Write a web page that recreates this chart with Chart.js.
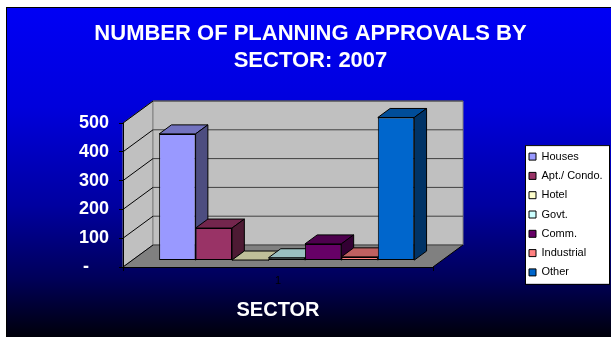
<!DOCTYPE html>
<html>
<head>
<meta charset="utf-8">
<title>Planning approvals by sector 2007</title>
<script src="https://cdn.jsdelivr.net/npm/chart.js@4.4.1/dist/chart.umd.min.js"></script>
<style>
    html, body { margin: 0; padding: 0; background: #fff; }
    canvas { display: block; }
</style>
</head>
<body>
<canvas id="approvals-chart" width="611" height="337"></canvas>
<script>
(function() {
    'use strict';

    // Planning approvals per sector, 2007
    const categories = ['1'];
    const sectors = ['Houses', 'Apt./ Condo.', 'Hotel', 'Govt.', 'Comm.', 'Industrial', 'Other'];
    const approvals = [440, 113, 2, 10, 58, 13, 497];
    const sectorColors = ['#9999FF', '#993366', '#FFFFCC', '#CCFFFF', '#660066', '#FF8080', '#0066CC'];
    const yTicks = [0, 100, 200, 300, 400, 500];

    // 3D look: floor depth vector, and where the bars sit along it
    const DEPTH = { x: 30, y: -22 };
    const BAR_FRONT = 0.29;
    const BAR_DEPTH = 0.41;

    /**
     * Darken a hex colour by factor k
     */
    function shade(hex, k) {
        const n = parseInt(hex.slice(1), 16);
        const r = Math.round(((n >> 16) & 255) * k);
        const g = Math.round(((n >> 8) & 255) * k);
        const b = Math.round((n & 255) * k);
        return 'rgb(' + r + ',' + g + ',' + b + ')';
    }

    function poly(ctx, pts, fill, stroke) {
        ctx.beginPath();
        ctx.moveTo(pts[0][0], pts[0][1]);
        for (let i = 1; i < pts.length; i++) ctx.lineTo(pts[i][0], pts[i][1]);
        ctx.closePath();
        if (fill) { ctx.fillStyle = fill; ctx.fill(); }
        if (stroke) { ctx.strokeStyle = stroke; ctx.stroke(); }
    }

    const frame3d = {
        id: 'frame3d',

        // park the legend in the right margin
        afterLayout: function(chart) {
            const legend = chart.legend;
            legend.left = 520.7;
            legend.top = 142.8;
            legend.right = legend.left + legend.width;
            legend.bottom = chart.height;
        },

        beforeDraw: function(chart) {
            const ctx = chart.ctx;
            const { left, right, top, bottom } = chart.chartArea;
            const dx = DEPTH.x, dy = DEPTH.y;
            const yScale = chart.scales.y;

            ctx.save();

            // page backdrop
            ctx.fillStyle = '#fff';
            ctx.fillRect(0, 0, chart.width, chart.height);
            ctx.fillStyle = '#000';
            ctx.fillRect(6, 7, chart.width - 6, chart.height - 7);
            const grad = ctx.createLinearGradient(0, 8, 0, chart.height);
            grad.addColorStop(0, '#0000F5');
            grad.addColorStop(0.3, '#0000DC');
            grad.addColorStop(0.6, '#0000A0');
            grad.addColorStop(0.82, '#00005A');
            grad.addColorStop(1, '#00000A');
            ctx.fillStyle = grad;
            ctx.fillRect(7, 8, chart.width - 7, chart.height - 8);

            ctx.lineWidth = 1;
            ctx.lineJoin = 'miter';

            // side wall, back wall, floor
            poly(ctx, [[left, top], [left + dx, top + dy], [left + dx, bottom + dy], [left, bottom]], '#C0C0C0', '#808080');
            poly(ctx, [[left + dx, top + dy], [right + dx, top + dy], [right + dx, bottom + dy], [left + dx, bottom + dy]], '#C0C0C0', '#808080');
            poly(ctx, [[left, bottom], [right, bottom], [right + dx, bottom + dy], [left + dx, bottom + dy]], '#808080', null);

            // gridlines run across the side wall and the back wall
            yTicks.forEach(function(v) {
                const py = yScale.getPixelForValue(v);
                ctx.beginPath();
                ctx.moveTo(left, py);
                ctx.lineTo(left + dx, py + dy);
                ctx.strokeStyle = '#000';
                ctx.stroke();
                ctx.beginPath();
                ctx.moveTo(left + dx, py + dy);
                ctx.lineTo(right + dx, py + dy);
                ctx.strokeStyle = '#404040';
                ctx.stroke();
            });

            // right floor edge
            ctx.beginPath();
            ctx.moveTo(right, bottom);
            ctx.lineTo(right + dx, bottom + dy);
            ctx.strokeStyle = '#000';
            ctx.stroke();

            // legend panel
            const boxes = chart.legend.legendHitBoxes;
            if (boxes && boxes.length) {
                const first = boxes[0];
                const last = boxes[boxes.length - 1];
                const bx = first.left - 4;
                const by = first.top - 6;
                const bh = last.top + last.height + 6 - by;
                ctx.fillStyle = '#fff';
                ctx.fillRect(bx, by, 84, bh);
                ctx.strokeStyle = '#000';
                ctx.strokeRect(bx + 0.5, by + 0.5, 84, bh);
            }

            ctx.restore();
        },

        // bars are drawn left to right so each block hides the one behind it
        beforeDatasetsDraw: function(chart) {
            const ctx = chart.ctx;
            const bx = DEPTH.x * BAR_DEPTH, by = DEPTH.y * BAR_DEPTH;
            const bars = chart.data.datasets.map(function(ds, i) {
                return { el: chart.getDatasetMeta(i).data[0], color: sectorColors[i] };
            }).sort(function(a, b) { return a.el.x - b.el.x; });

            ctx.save();
            ctx.translate(DEPTH.x * BAR_FRONT, DEPTH.y * BAR_FRONT);
            ctx.lineWidth = 1;
            ctx.lineJoin = 'round';
            bars.forEach(function(bar) {
                const p = bar.el.getProps(['x', 'y', 'base', 'width'], true);
                const x0 = p.x - p.width / 2, x1 = p.x + p.width / 2;
                const t = Math.min(p.y, p.base), b = Math.max(p.y, p.base);
                bar.el.draw(ctx);
                poly(ctx, [[x0, t], [x0 + bx, t + by], [x1 + bx, t + by], [x1, t]], shade(bar.color, 0.75), '#000');
                poly(ctx, [[x1, t], [x1 + bx, t + by], [x1 + bx, b + by], [x1, b]], shade(bar.color, 0.5), '#000');
            });
            ctx.restore();
            return false;
        }
    };

    Chart.defaults.font.family = '"Liberation Sans", Arial, Helvetica, sans-serif';

    const ctx = document.getElementById('approvals-chart');

    new Chart(ctx, {
        type: 'bar',
        data: {
            labels: categories,
            datasets: sectors.map(function(name, i) {
                return {
                    label: name,
                    data: [approvals[i]],
                    backgroundColor: sectorColors[i],
                    borderColor: '#000',
                    borderWidth: 1,
                    borderSkipped: false,
                    categoryPercentage: 0.823,
                    barPercentage: 1
                };
            })
        },
        options: {
            responsive: false,
            animation: false,
            events: [],
            layout: {
                padding: { left: 10, right: 0, top: 8, bottom: 0 }
            },
            plugins: {
                title: {
                    display: true,
                    text: ['NUMBER OF PLANNING APPROVALS BY', 'SECTOR: 2007'],
                    color: '#fff',
                    font: { size: 22, weight: 'bold', lineHeight: '27px' },
                    padding: { top: 12, bottom: 49 }
                },
                legend: {
                    position: 'chartArea',
                    align: 'start',
                    labels: {
                        color: '#000',
                        font: { size: 11 },
                        boxWidth: 7,
                        boxHeight: 7,
                        padding: 8.3
                    }
                },
                tooltip: { enabled: false }
            },
            scales: {
                x: {
                    grid: {
                        drawOnChartArea: false,
                        drawTicks: true,
                        tickLength: 4,
                        color: '#000',
                        offset: true
                    },
                    border: { color: '#000' },
                    ticks: { color: '#000', font: { size: 11 }, padding: 3 },
                    title: {
                        display: true,
                        text: 'SECTOR',
                        color: '#fff',
                        font: { size: 20, weight: 'bold' },
                        padding: { top: 0, bottom: 15 }
                    },
                    afterFit: function(scale) { scale.height = 70; }
                },
                y: {
                    min: 0,
                    max: 500,
                    afterBuildTicks: function(scale) {
                        scale.ticks = yTicks.map(function(v) { return { value: v }; });
                    },
                    grid: { drawOnChartArea: false, tickLength: 4, color: '#000' },
                    border: { color: '#000' },
                    ticks: {
                        color: '#fff',
                        font: { size: 18, weight: 'bold' },
                        padding: 10,
                        callback: function(value) {
                            return value === 0 ? '-    ' : value;
                        }
                    },
                    afterFit: function(scale) { scale.width = 113; }
                },
                // keeps room on the right for the legend
                gutter: {
                    type: 'linear',
                    axis: 'y',
                    position: 'right',
                    grid: { display: false },
                    border: { display: false },
                    ticks: { display: false },
                    afterFit: function(scale) { scale.width = 178; }
                }
            }
        },
        plugins: [frame3d]
    });
})();
</script>
</body>
</html>
